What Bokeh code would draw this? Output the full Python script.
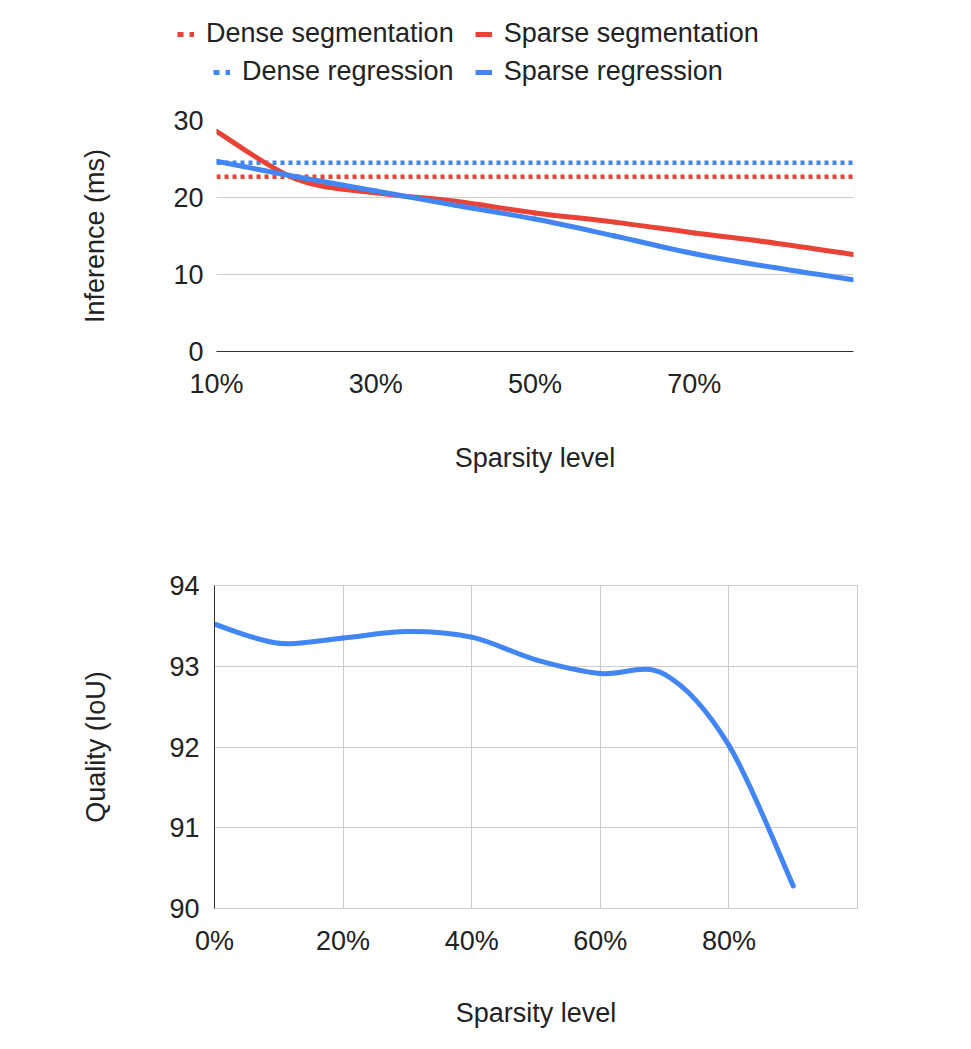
import math
from bokeh.plotting import figure
from bokeh.layouts import column
from bokeh.models import (Range1d, FixedTicker, NumeralTickFormatter, Legend, LegendItem)
from bokeh.embed import file_html
from bokeh.resources import INLINE

# ---------------- data ----------------
sparsity_top = [0.1, 0.2, 0.3, 0.4, 0.5, 0.6, 0.7, 0.8, 0.9]
sparse_segmentation = [28.6, 22.4, 20.6, 19.5, 18.0, 16.8, 15.4, 14.1, 12.6]
sparse_regression = [24.7, 22.7, 20.85, 19.0, 17.2, 15.0, 12.7, 10.9, 9.3]
dense_segmentation = [22.7] * len(sparsity_top)
dense_regression = [24.5] * len(sparsity_top)
top_ticks = [0.1, 0.3, 0.5, 0.7]
top_yticks = [0, 10, 20, 30]

sparsity_bottom = [0.0, 0.1, 0.2, 0.3, 0.4, 0.5, 0.6, 0.7, 0.8, 0.9]
quality_iou = [93.52, 93.285, 93.35, 93.43, 93.36, 93.08, 92.91, 92.90, 92.02, 90.28]
bottom_ticks = [0.0, 0.2, 0.4, 0.6, 0.8]
bottom_yticks = [90, 91, 92, 93, 94]

legend_row1 = ["Dense segmentation", "Sparse segmentation"]
legend_row2 = ["Dense regression", "Sparse regression"]

RED = "#EA4335"
BLUE = "#4285F4"
GRID = "#cccccc"
TEXT = "#222222"
FONT = "Liberation Sans"
FS = "27px"
NAN = float("nan")
W = 963


def smooth_segments(xs, ys):
    """Catmull-Rom style cubic Bezier segments through the data points."""
    n = len(xs)
    out = dict(x0=[], y0=[], x1=[], y1=[], cx0=[], cy0=[], cx1=[], cy1=[])
    for i in range(n - 1):
        im1 = max(i - 1, 0)
        ip2 = min(i + 2, n - 1)
        out["x0"].append(xs[i]); out["y0"].append(ys[i])
        out["x1"].append(xs[i + 1]); out["y1"].append(ys[i + 1])
        out["cx0"].append(xs[i] + (xs[i + 1] - xs[im1]) / 6.0)
        out["cy0"].append(ys[i] + (ys[i + 1] - ys[im1]) / 6.0)
        out["cx1"].append(xs[i + 1] - (xs[ip2] - xs[i]) / 6.0)
        out["cy1"].append(ys[i + 1] - (ys[ip2] - ys[i]) / 6.0)
    return out


def style_axes(p):
    for ax in (p.xaxis[0], p.yaxis[0]):
        ax.major_tick_line_color = None
        ax.minor_tick_line_color = None
        ax.major_tick_out = 0
        ax.major_tick_in = 0
        ax.major_label_text_font = FONT
        ax.major_label_text_font_size = FS
        ax.major_label_text_color = TEXT
        ax.axis_label_text_font = FONT
        ax.axis_label_text_font_size = FS
        ax.axis_label_text_font_style = "normal"
        ax.axis_label_text_color = TEXT


# ---------------- legend strip ----------------
LH = 100
leg_fig = figure(width=W, height=LH, min_border=0, x_range=Range1d(0, 1), y_range=Range1d(0, 1),
                 x_axis_location=None, y_axis_location=None,
                 output_backend="svg", toolbar_location=None)
leg_fig.outline_line_color = None
leg_fig.xgrid.visible = False
leg_fig.ygrid.visible = False
lg_ds = leg_fig.line([NAN], [NAN], line_color=RED, line_width=5, line_dash="6 6", line_cap="butt")
lg_ss = leg_fig.line([NAN], [NAN], line_color=RED, line_width=5, line_cap="butt")
lg_dr = leg_fig.line([NAN], [NAN], line_color=BLUE, line_width=5, line_dash="6 6", line_cap="butt")
lg_sr = leg_fig.line([NAN], [NAN], line_color=BLUE, line_width=5, line_cap="butt")


def make_legend(items, loc):
    return Legend(items=items, location=loc, orientation="horizontal",
                  border_line_color=None, background_fill_alpha=0,
                  padding=0, margin=0, spacing=21, label_standoff=12,
                  glyph_width=17, glyph_height=20,
                  label_text_font=FONT, label_text_font_size=FS, label_text_color=TEXT)


leg1 = make_legend([LegendItem(label=legend_row1[0], renderers=[lg_ds]),
                    LegendItem(label=legend_row1[1], renderers=[lg_ss])], (177, 51))
leg2 = make_legend([LegendItem(label=legend_row2[0], renderers=[lg_dr]),
                    LegendItem(label=legend_row2[1], renderers=[lg_sr])], (213, 13))
leg_fig.add_layout(leg1, "center")
leg_fig.add_layout(leg2, "center")

# ---------------- top chart ----------------
top = figure(frame_width=637, frame_height=231, min_border_left=216, min_border_right=W - 216 - 637,
             min_border_top=120 - LH, min_border_bottom=147,
             x_range=Range1d(0.1, 0.9), y_range=Range1d(0, 30),
             output_backend="svg", toolbar_location=None)
top.outline_line_color = None

top.line(sparsity_top, dense_segmentation, line_color=RED, line_width=4.5, line_dash="4 4", line_cap="butt")
top.line(sparsity_top, dense_regression, line_color=BLUE, line_width=4.5, line_dash="4 4", line_cap="butt")
bs = smooth_segments(sparsity_top, sparse_segmentation)
top.bezier(x0=bs["x0"], y0=bs["y0"], x1=bs["x1"], y1=bs["y1"], cx0=bs["cx0"], cy0=bs["cy0"],
           cx1=bs["cx1"], cy1=bs["cy1"], line_color=RED, line_width=5, line_cap="round")
br = smooth_segments(sparsity_top, sparse_regression)
top.bezier(x0=br["x0"], y0=br["y0"], x1=br["x1"], y1=br["y1"], cx0=br["cx0"], cy0=br["cy0"],
           cx1=br["cx1"], cy1=br["cy1"], line_color=BLUE, line_width=5, line_cap="round")

style_axes(top)
top.xaxis.ticker = FixedTicker(ticks=top_ticks)
top.xaxis.formatter = NumeralTickFormatter(format="0%")
top.yaxis.ticker = FixedTicker(ticks=top_yticks)
top.xaxis.axis_label = "Sparsity level"
top.yaxis.axis_label = "Inference (ms)"
top.xaxis.axis_line_color = "#333333"
top.yaxis.axis_line_color = None
top.xaxis.major_label_standoff = 17
top.xaxis.axis_label_standoff = 41
top.yaxis.major_label_standoff = 13
top.yaxis.axis_label_standoff = 60
top.xgrid.grid_line_color = None
top.ygrid.grid_line_color = GRID
top.ygrid.grid_line_width = 1

# ---------------- bottom chart ----------------
bot = figure(frame_width=643, frame_height=323, min_border_left=214, min_border_right=W - 214 - 643,
             min_border_top=87, min_border_bottom=135,
             x_range=Range1d(0, 1), y_range=Range1d(90, 94),
             output_backend="svg", toolbar_location=None)
bot.outline_line_color = GRID

bq = smooth_segments(sparsity_bottom, quality_iou)
bot.bezier(x0=bq["x0"], y0=bq["y0"], x1=bq["x1"], y1=bq["y1"], cx0=bq["cx0"], cy0=bq["cy0"],
           cx1=bq["cx1"], cy1=bq["cy1"], line_color=BLUE, line_width=5, line_cap="round")

style_axes(bot)
bot.xaxis.ticker = FixedTicker(ticks=bottom_ticks)
bot.xaxis.formatter = NumeralTickFormatter(format="0%")
bot.yaxis.ticker = FixedTicker(ticks=bottom_yticks)
bot.xaxis.axis_label = "Sparsity level"
bot.yaxis.axis_label = "Quality (IoU)"
bot.xaxis.axis_line_color = GRID
bot.yaxis.axis_line_color = "#333333"
bot.xaxis.major_label_standoff = 17
bot.xaxis.axis_label_standoff = 39
bot.yaxis.major_label_standoff = 15
bot.yaxis.axis_label_standoff = 55
bot.xgrid.grid_line_color = GRID
bot.ygrid.grid_line_color = GRID

layout = column(column(leg_fig), column(top), column(bot), spacing=0)
open("out.html", "w").write(file_html(layout, INLINE))
